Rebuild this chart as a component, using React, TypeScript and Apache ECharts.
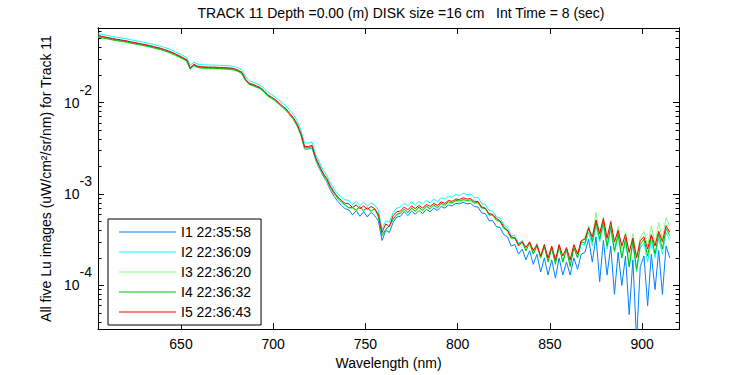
import React, { useEffect, useRef } from "react";
import * as echarts from "echarts";

// Wavelength grid (nm): 605, 607, ..., 915
const WL_START = 605;
const WL_STEP = 2;

const seriesNames = ["I1 22:35:58", "I2 22:36:09", "I3 22:36:20", "I4 22:36:32", "I5 22:36:43"];
const seriesColors = ["#0080FF", "#00FFFF", "#80FF80", "#00C000", "#FF0000"];

// Values in units of 1e-4 uW/cm^2/sr/nm
const I1 = [
  535,525,515,505,495,487,480,473,465,455,
  447,440,432,424,416,406,396,388,376,364,
  351,337,322,307,292,236,259,247,243,242,
  241,241,240,239,238,237,235,231,223,211,
  177,160,155,149,143,132,119,112,105,97,
  89,82,73,65,55,44,31,31,32,23.5,
  19.0,15.8,13.6,11.0,9.4,8.3,7.5,6.9,6.7,5.9,
  6.6,5.7,6.4,5.6,6.3,5.8,5.1,3.1,4.0,3.8,
  4.9,5.6,5.7,6.4,5.8,6.5,6.0,6.6,6.1,6.8,
  6.4,7.0,6.6,7.3,7.0,7.6,7.4,7.9,7.8,8.1,
  7.8,7.9,7.3,7.2,6.2,6.1,5.1,5.1,4.4,4.3,
  3.6,3.4,2.7,2.8,2.2,2.5,1.9,2.4,1.7,2.2,
  1.4,2.0,1.3,1.9,1.2,2.0,1.3,1.8,1.3,2.0,
  1.5,2.2,2.3,3.2,1.8,3.4,1.1,3.1,1.3,2.7,
  0.8,2.3,1.0,2.1,0.48,1.9,0.25,1.6,2.1,0.6,
  2.2,0.9,2.4,0.8,2.7,2.0,
];
const I2 = [
  565,556,546,536,525,517,510,502,494,484,
  476,467,459,450,442,432,421,413,400,388,
  374,358,342,326,311,255,276,264,259,258,
  257,257,256,255,254,253,251,247,239,227,
  192,173,167,161,155,143,130,122,115,107,
  99,92,82,74,63,50,36,36,37,27,
  22.2,18.4,16.0,13.2,11.3,10.0,9.2,8.6,8.5,7.7,
  8.3,7.5,8.1,7.4,8.0,7.6,6.6,4.1,5.1,4.9,
  6.3,7.0,7.2,7.9,7.4,8.2,7.6,8.3,7.8,8.5,
  8.0,8.8,8.2,9.1,8.8,9.4,9.2,9.9,9.6,10.2,
  9.8,10.0,9.1,9.2,7.9,7.7,6.6,6.5,5.6,5.5,
  4.6,4.3,3.5,3.5,2.9,3.1,2.6,2.9,2.4,2.7,
  2.0,2.6,1.9,2.5,1.8,2.6,1.9,2.4,1.7,2.6,
  2.0,2.8,2.8,3.8,2.7,4.5,3.0,4.6,2.5,4.1,
  2.3,3.4,2.0,3.0,1.6,2.8,1.4,2.6,2.9,1.8,
  3.1,2.0,3.3,2.2,3.8,3.1,
];
const I3 = [
  518,509,499,490,480,472,466,459,451,442,
  434,426,419,411,403,394,384,376,365,353,
  341,326,312,298,283,230,252,240,236,235,
  234,234,233,232,231,230,228,225,217,205,
  173,156,152,146,140,130,117,110,104,96,
  88,81,73,65,55,44,31.5,31.5,32.5,24,
  19.5,16.2,14.0,11.6,10.0,8.8,8.0,7.4,7.0,6.9,
  6.6,7.1,6.5,6.9,6.4,6.8,5.6,3.7,4.0,4.4,
  5.2,5.9,6.1,6.7,6.2,6.9,6.4,7.0,6.5,7.2,
  6.8,7.4,6.9,7.7,7.3,8.0,7.8,8.3,8.1,8.5,
  8.3,8.4,7.8,8.0,7.0,6.9,5.9,5.8,5.1,5.0,
  4.2,3.9,3.2,3.3,2.7,2.9,2.4,2.9,2.2,2.9,
  2.0,2.7,1.9,2.6,2.0,2.7,1.8,2.5,1.9,2.7,
  2.2,2.9,3.4,4.5,3.2,6.3,3.5,5.6,3.1,4.8,
  2.8,4.4,2.5,3.9,2.1,3.7,2.0,3.3,3.9,2.7,
  4.5,2.8,4.9,3.2,5.5,4.5,
];
const I4 = [
  524,514,504,495,485,477,470,464,456,446,
  438,431,423,415,407,398,388,380,369,357,
  344,330,315,301,286,233,254,243,239,238,
  237,237,236,235,234,233,231,227,219,208,
  175,158,153,147,142,131,118,112,105,97,
  89,82,74,66,56,45,32,32,33,24.3,
  19.9,16.5,14.4,11.8,10.2,9.0,8.2,7.6,7.1,7.1,
  6.7,7.3,6.6,7.1,6.5,6.9,5.7,3.5,4.1,4.5,
  5.3,6.0,6.2,6.8,6.3,7.0,6.5,7.2,6.6,7.4,
  6.9,7.6,7.1,7.9,7.6,8.2,8.0,8.5,8.4,8.7,
  8.5,8.6,8.0,8.1,7.0,7.0,5.9,5.9,5.2,5.0,
  4.2,4.0,3.3,3.3,2.7,3.0,2.4,2.9,2.2,2.7,
  2.0,2.7,1.8,2.6,1.7,2.7,1.8,2.5,1.6,2.6,
  2.0,3.0,2.9,4.3,3.0,4.9,3.2,5.0,2.7,4.4,
  2.4,3.7,2.0,3.3,1.6,3.1,1.5,2.8,3.2,2.1,
  3.5,2.2,3.7,2.5,4.2,3.5,
];
const I5 = [
  540,530,520,510,500,492,485,478,470,460,
  452,444,436,428,420,410,400,392,380,368,
  355,340,325,310,295,240,262,250,246,245,
  244,244,243,242,241,240,238,234,226,214,
  180,163,158,152,146,135,122,115,108,100,
  92,85,76,68,58,46,33,33,34,25,
  20.5,17,14.8,12.2,10.5,9.3,8.5,7.9,7.8,7.1,
  7.6,6.9,7.4,6.8,7.3,6.9,6.0,3.8,4.7,4.4,
  5.8,6.4,6.5,7.2,6.7,7.4,6.9,7.5,7.0,7.7,
  7.3,7.9,7.5,8.2,7.9,8.5,8.3,8.8,8.7,9.1,
  8.8,8.9,8.3,8.3,7.2,7.0,6.1,6.0,5.4,5.1,
  4.4,4.0,3.4,3.3,2.8,3.0,2.6,3.0,2.4,2.8,
  2.1,2.8,2.0,2.7,1.9,2.8,2.1,2.6,1.9,2.8,
  2.2,3.1,3.2,4.2,3.4,5.2,3.7,5.4,3.3,5.0,
  3.0,4.0,2.7,3.6,2.3,3.3,2.0,3.1,3.4,2.5,
  3.6,2.7,3.9,3.0,4.5,3.8,
];
const allSeries = [I1, I2, I3, I4, I5];

const UNIT = 1e-4;
const xTicks = [650, 700, 750, 800, 850, 900];
const yMajorTicks = [1e-4, 1e-3, 1e-2];
const yMinorMantissas = [2, 3, 4, 5, 6, 7, 8, 9];
const X_MIN = 605;
const X_MAX = 920;
const Y_MIN = 3.33e-5;
const Y_MAX = 0.0653;

const FONT = "'Liberation Sans', Arial, Helvetica, sans-serif";

export default function App() {
  const ref = useRef<HTMLDivElement>(null);
  useEffect(() => {
    document.body.style.margin = "0";
    if (!ref.current) return;
    const chart = echarts.init(ref.current, null, { renderer: "svg" });

    const yMinor: number[] = [];
    for (const dec of [1e-5, 1e-4, 1e-3, 1e-2]) {
      for (const m of yMinorMantissas) {
        const v = m * dec;
        if (v > Y_MIN && v < Y_MAX) yMinor.push(v);
      }
    }

    const series = allSeries.map((arr, k) => ({
      name: seriesNames[k],
      type: "line",
      xAxisIndex: 0,
      yAxisIndex: 0,
      showSymbol: false,
      symbol: "none",
      silent: true,
      clip: true,
      color: seriesColors[k],
      itemStyle: { color: seriesColors[k] },
      lineStyle: { width: 1, color: seriesColors[k] },
      emphasis: { disabled: true },
      data: arr.map((v, i) => [WL_START + i * WL_STEP, v * UNIT]),
    }));

    const axisLine = { show: true, lineStyle: { color: "#000", width: 1 } };

    const yBase = {
      type: "log",
      logBase: 10,
      min: Y_MIN,
      max: Y_MAX,
      splitLine: { show: false },
      axisLine,
    };

    chart.setOption({
      animation: false,
      backgroundColor: "#fff",
      textStyle: { fontFamily: FONT },
      grid: { left: 98, right: 71, top: 28, bottom: 44, containLabel: false },
      graphic: [
        {
          type: "text",
          x: 401,
          y: 13,
          style: {
            text: "TRACK 11 Depth =0.00 (m) DISK size =16 cm   Int Time = 8 (sec)",
            font: `14px ${FONT}`,
            fill: "#000",
            align: "center",
            verticalAlign: "middle",
          },
        },
      ],
      legend: {
        orient: "vertical",
        left: 108,
        top: 219,
        icon: "rect",
        itemWidth: 57,
        itemHeight: 1,
        itemGap: 6,
        padding: [6, 10, 6, 11],
        borderColor: "#000",
        borderWidth: 1,
        borderRadius: 0,
        backgroundColor: "#fff",
        selectedMode: false,
        itemStyle: { borderWidth: 0 },
        textStyle: { fontSize: 14, color: "#000", fontFamily: FONT, lineHeight: 13 },
        data: seriesNames,
      },
      xAxis: [
        {
          type: "value",
          position: "bottom",
          min: X_MIN,
          max: X_MAX,
          splitLine: { show: false },
          axisLine,
          axisTick: { show: true, inside: true, length: 6, customValues: xTicks, lineStyle: { color: "#000" } },
          axisLabel: { show: true, customValues: xTicks, margin: 8, fontSize: 14, color: "#000", fontFamily: FONT },
          name: "Wavelength (nm)",
          nameLocation: "middle",
          nameGap: 25,
          nameTextStyle: { fontSize: 14, color: "#000", fontFamily: FONT },
        },
        {
          type: "value",
          position: "top",
          min: X_MIN,
          max: X_MAX,
          splitLine: { show: false },
          axisLine,
          axisTick: { show: true, inside: true, length: 6, customValues: xTicks, lineStyle: { color: "#000" } },
          axisLabel: { show: false },
        },
      ],
      yAxis: [
        {
          ...yBase,
          position: "left",
          axisTick: { show: true, inside: true, length: 6, customValues: yMajorTicks, lineStyle: { color: "#000" } },
          axisLabel: {
            show: true,
            customValues: yMajorTicks,
            margin: 6,
            padding: [0, 0, 13, 0],
            color: "#000",
            fontFamily: FONT,
            formatter: (v: number) => {
              const e = Math.round(Math.log10(v));
              return `{b|10}{e|${e}}`;
            },
            rich: {
              b: { fontSize: 14, lineHeight: 27, verticalAlign: "bottom", color: "#000", fontFamily: FONT },
              e: { fontSize: 14, lineHeight: 27, verticalAlign: "top", color: "#000", fontFamily: FONT },
            },
          },
          name: "All five Lu images (uW/cm\u00B2/sr/nm) for Track 11",
          nameLocation: "middle",
          nameGap: 41,
          nameTextStyle: { fontSize: 14, color: "#000", fontFamily: FONT },
        },
        {
          ...yBase,
          position: "left",
          axisTick: { show: true, inside: true, length: 3.5, customValues: yMinor, lineStyle: { color: "#000" } },
          axisLabel: { show: false },
        },
        {
          ...yBase,
          position: "right",
          axisTick: { show: true, inside: true, length: 6, customValues: yMajorTicks, lineStyle: { color: "#000" } },
          axisLabel: { show: false },
        },
        {
          ...yBase,
          position: "right",
          axisTick: { show: true, inside: true, length: 3.5, customValues: yMinor, lineStyle: { color: "#000" } },
          axisLabel: { show: false },
        },
      ],
      series,
    });
    return () => chart.dispose();
  }, []);
  return <div ref={ref} style={{ width: 750, height: 375 }} />;
}
